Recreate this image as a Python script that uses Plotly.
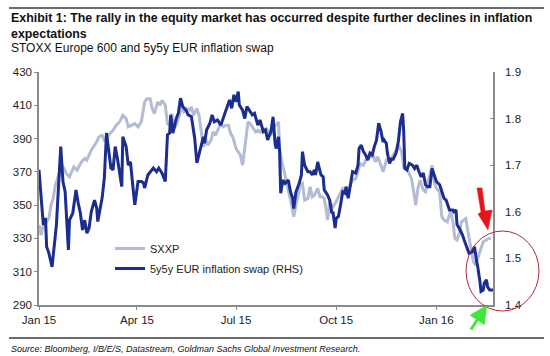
import pandas as pd
import plotly.graph_objects as go

# ---------------- data (days since 2015-01-01, values) ----------------
sxxp_days = [0, 2, 5, 7, 9, 11, 13, 15, 18, 21, 23, 25, 28, 30, 32, 35, 37, 39, 42, 44, 46, 48, 51, 53, 55, 58,
             60, 62, 65, 68, 71, 74, 77, 80, 82, 85, 88, 91, 94, 97, 99, 102, 104, 106, 109, 111, 113, 116, 118,
             120, 122, 124, 126, 129, 131, 133, 136, 138, 140, 142, 145, 147, 149, 151, 153, 155, 158, 160, 162,
             164, 167, 169, 172, 174, 176, 178, 181, 183, 185, 187, 189, 191, 192, 194, 197, 199, 201, 203, 206,
             209, 210, 213, 215, 217, 219, 220, 221, 223, 226, 228, 230, 232, 234, 236, 239, 240, 242, 244, 247,
             249, 251, 253, 256, 258, 260, 262, 264, 265, 267, 270, 272, 275, 277, 279, 281, 284, 286, 288, 291,
             293, 295, 298, 300, 302, 305, 307, 309, 311, 314, 316, 317, 319, 322, 325, 328, 331, 333, 335, 337,
             340, 342, 343, 346, 348, 350, 353, 355, 357, 359, 361, 363, 365, 368, 370, 372, 375, 378, 380, 382,
             384, 386, 388, 390, 392, 394, 395, 397, 399, 401, 402, 404, 406, 408, 411, 413, 415]
sxxp_vals = [338, 332, 341, 340, 342, 350, 354, 362, 368, 374, 372, 369, 367, 370, 373, 371, 374, 376, 378, 377,
             380, 383, 386, 388, 391, 392, 389, 390, 393, 395, 398, 400, 404, 402, 397, 398, 399, 397, 400, 412,
             414, 414, 408, 405, 412, 410, 413, 410, 399, 398, 405, 396, 398, 404, 409, 406, 408, 407, 409, 404,
             408, 404, 394, 385, 390, 386, 389, 394, 392, 395, 399, 397, 398, 398, 393, 391, 384, 382, 380, 374,
             386, 396, 400, 399, 396, 394, 395, 394, 396, 394, 395, 392, 396, 398, 399, 400, 384, 376, 368, 361,
             356, 350, 343, 350, 359, 362, 363, 353, 354, 361, 355, 356, 360, 355, 355, 354, 346, 341, 352, 349,
             351, 355, 357, 360, 359, 358, 362, 365, 366, 370, 375, 374, 377, 378, 379, 380, 376, 379, 374, 370,
             372, 377, 376, 380, 383, 385, 382, 373, 372, 369, 366, 363, 350, 360, 365, 359, 358, 364, 368, 374,
             364, 360, 358, 343, 341, 340, 346, 341, 330, 329, 333, 340, 341, 342, 334, 330, 323, 316, 314, 316,
             320, 323, 328, 329, 330, 330]

swap_days = [0, 1, 2, 4, 6, 7, 9, 12, 14, 16, 18, 20, 22, 24, 27, 28, 31, 34, 36, 38, 40, 42, 44, 46, 48, 51, 53,
             54, 58, 60, 62, 64, 66, 68, 70, 72, 74, 76, 77, 80, 82, 84, 87, 88, 91, 94, 96, 97, 100, 102, 105,
             108, 110, 113, 116, 118, 120, 121, 123, 126, 128, 130, 132, 135, 137, 140, 142, 143, 145, 148, 151,
             152, 154, 157, 159, 161, 164, 167, 169, 172, 175, 177, 179, 181, 183, 184, 187, 189, 191, 194, 196,
             198, 201, 203, 206, 208, 210, 213, 215, 217, 218, 220, 221, 222, 224, 226, 229, 231, 233, 234, 236,
             239, 241, 242, 244, 247, 249, 251, 253, 254, 256, 259, 261, 262, 265, 267, 269, 270, 272, 273, 275,
             277, 279, 281, 282, 284, 285, 287, 288, 291, 293, 294, 296, 298, 300, 302, 304, 306, 308, 310, 312,
             314, 316, 317, 319, 320, 322, 324, 325, 327, 328, 330, 332, 334, 335, 336, 338, 340, 343, 345, 347,
             349, 351, 353, 355, 357, 359, 361, 363, 365, 368, 370, 372, 374, 375, 377, 380, 381, 383, 384, 386,
             389, 391, 393, 395, 398, 400, 402, 403, 405, 406, 408, 409, 411, 412, 414, 417]
swap_vals = [1.690, 1.665, 1.630, 1.572, 1.587, 1.525, 1.512, 1.482, 1.536, 1.572, 1.658, 1.740, 1.665, 1.643,
             1.518, 1.582, 1.597, 1.647, 1.619, 1.597, 1.561, 1.582, 1.554, 1.565, 1.600, 1.625, 1.608, 1.579,
             1.630, 1.672, 1.769, 1.729, 1.694, 1.690, 1.740, 1.715, 1.679, 1.654, 1.761, 1.740, 1.700, 1.707,
             1.636, 1.615, 1.665, 1.665, 1.662, 1.651, 1.679, 1.686, 1.694, 1.686, 1.694, 1.683, 1.665, 1.765,
             1.769, 1.808, 1.769, 1.800, 1.812, 1.844, 1.826, 1.818, 1.808, 1.804, 1.769, 1.758, 1.705, 1.733,
             1.761, 1.747, 1.776, 1.790, 1.808, 1.793, 1.797, 1.786, 1.800, 1.822, 1.840, 1.822, 1.851, 1.836,
             1.858, 1.829, 1.818, 1.800, 1.826, 1.815, 1.808, 1.811, 1.786, 1.797, 1.772, 1.776, 1.754, 1.772,
             1.804, 1.743, 1.736, 1.761, 1.729, 1.640, 1.668, 1.661, 1.668, 1.643, 1.629, 1.607, 1.643, 1.661,
             1.679, 1.729, 1.700, 1.686, 1.686, 1.679, 1.690, 1.679, 1.707, 1.679, 1.675, 1.647, 1.636, 1.625,
             1.597, 1.600, 1.565, 1.586, 1.590, 1.615, 1.643, 1.640, 1.654, 1.629, 1.647, 1.672, 1.686, 1.683,
             1.700, 1.736, 1.743, 1.729, 1.722, 1.711, 1.726, 1.722, 1.740, 1.754, 1.790, 1.774, 1.750, 1.754,
             1.747, 1.726, 1.704, 1.715, 1.711, 1.722, 1.726, 1.750, 1.793, 1.811, 1.772, 1.693, 1.690, 1.704,
             1.700, 1.693, 1.700, 1.686, 1.675, 1.683, 1.658, 1.654, 1.654, 1.693, 1.679, 1.665, 1.658, 1.643,
             1.629, 1.625, 1.618, 1.604, 1.604, 1.600, 1.604, 1.572, 1.565, 1.550, 1.536, 1.522, 1.511, 1.514,
             1.525, 1.493, 1.482, 1.450, 1.429, 1.432, 1.447, 1.454, 1.439, 1.432, 1.432]

tick_dates = ["2015-01-01", "2015-04-01", "2015-07-01", "2015-10-01", "2016-01-01"]
tick_labels = ["Jan 15", "Apr 15", "Jul 15", "Oct 15", "Jan 16"]

title_line1 = "Exhibit 1: The rally in the equity market has occurred despite further declines in inflation"
title_line2 = "expectations"
subtitle = "STOXX Europe 600 and 5y5y EUR inflation swap"
source = "Source: Bloomberg, I/B/E/S, Datastream, Goldman Sachs Global Investment Research."

# ---------------- figure ----------------
base = pd.Timestamp("2015-01-01")
sxxp_dates = base + pd.to_timedelta(sxxp_days, unit="D")
swap_dates = base + pd.to_timedelta(swap_days, unit="D")

FONT = "Liberation Sans, Arial, sans-serif"
AXC = "#8a8a8a"
L, R, T, B = 39, 57, 72, 51
W, H = 550, 356
PW, PH = W - L - R, H - T - B

def px(x):
    return (x - L) / PW

def py(y):
    return (H - B - y) / PH

fig = go.Figure()
fig.add_trace(go.Scatter(x=sxxp_dates, y=sxxp_vals, mode="lines", name="SXXP",
                         line=dict(color="#b4bcd3", width=3), legendgroup="a"))
fig.add_trace(go.Scatter(x=swap_dates, y=swap_vals, mode="lines", name="5y5y EUR inflation swap (RHS)",
                         line=dict(color="#1b2d8e", width=3), yaxis="y2", legendgroup="b"))

fig.update_layout(
    width=W, height=H,
    margin=dict(l=L, r=R, t=T, b=B),
    paper_bgcolor="white", plot_bgcolor="white",
    font=dict(family=FONT, color="#222"),
    xaxis=dict(range=[base, base + pd.Timedelta(days=417)], tickvals=tick_dates, ticktext=tick_labels,
               showgrid=False, zeroline=False, showline=True, linecolor=AXC, linewidth=1.5,
               ticks="outside", ticklen=3, tickcolor=AXC, tickfont=dict(size=11.5, color="#222")),
    yaxis=dict(range=[290, 430], tick0=290, dtick=20, showgrid=False, zeroline=False, showline=True,
               linecolor=AXC, linewidth=1.5, ticks="outside", ticklen=3, tickcolor=AXC,
               tickfont=dict(size=11.5, color="#222")),
    yaxis2=dict(range=[1.4, 1.9], tick0=1.4, dtick=0.1, tickformat=".1f", overlaying="y", side="right",
                showgrid=False, zeroline=False, showline=True, linecolor=AXC, linewidth=1.5,
                ticks="inside", ticklen=3, tickcolor=AXC, ticklabelstandoff=8,
                tickfont=dict(size=11.5, color="#222")),
    legend=dict(x=px(110), y=py(234), xanchor="left", yanchor="top", bgcolor="rgba(0,0,0,0)",
                font=dict(size=11, color="#222"), tracegroupgap=1, itemwidth=30),
    showlegend=True,
)

ann = [
    dict(text="<b>" + title_line1 + "</b>", y=py(18), size=12.4),
    dict(text="<b>" + title_line2 + "</b>", y=py(33.5), size=12.4),
    dict(text=subtitle, y=py(47.5), size=12),
    dict(text="<i>" + source + "</i>", y=py(349), size=9),
]
for a in ann:
    fig.add_annotation(text=a["text"], xref="paper", yref="paper", x=px(9), y=a["y"],
                       xanchor="left", yanchor="middle", showarrow=False,
                       font=dict(size=a["size"], color="#111", family=FONT))

# top and bottom rules (pixel-sized, anchored to paper)
for yy in (8, 338):
    fig.add_shape(type="line", xref="paper", yref="paper", x0=px(9), x1=px(544),
                  ysizemode="pixel", yanchor=py(yy), y0=0, y1=0,
                  line=dict(color="#3a3a3a", width=1.5))

# red circle highlight
fig.add_shape(type="circle", xref="paper", yref="paper", x0=px(466), x1=px(539), y0=py(311), y1=py(231),
              line=dict(color="#b3263a", width=1))

# red block arrow (pointing down)
arrow_pts = [(477, 188), (482, 188), (485, 211), (492, 210), (488, 230), (478, 214), (481, 212)]
path = "M " + " L ".join(f"{px(a):.5f},{py(b):.5f}" for a, b in arrow_pts) + " Z"
fig.add_shape(type="path", xref="paper", yref="paper", path=path,
              fillcolor="#e8141c", line=dict(color="#e8141c", width=0.5))

# green arrow (pointing up-right)
fig.add_annotation(xref="paper", yref="paper", x=px(487), y=py(305), ax=-17, ay=26, text="",
                   showarrow=True, arrowhead=2, arrowsize=1.2, arrowwidth=3, arrowcolor="#3ee83a")

fig.write_html("out.html", config={"displayModeBar": False},
               post_script="document.body.style.margin='0px';")
